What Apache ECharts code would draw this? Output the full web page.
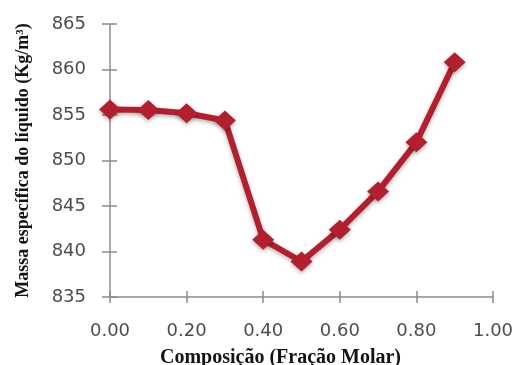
<!DOCTYPE html>
<html>
<head>
<meta charset="utf-8">
<script src="https://cdn.jsdelivr.net/npm/echarts@6/dist/echarts.min.js"></script>
<style>
html,body{margin:0;padding:0;background:#fff;}
#chart{width:515px;height:365px;}
</style>
</head>
<body>
<div id="chart"></div>
<script>
// Composition (mole fraction) and liquid density
const composicao = [0.0, 0.1, 0.2, 0.3, 0.4, 0.5, 0.6, 0.7, 0.8, 0.9];
const massaEspecifica = [855.6, 855.55, 855.2, 854.4, 841.3, 838.9, 842.4, 846.6, 852.0, 860.8];
const yTicks = [835, 840, 845, 850, 855, 860, 865];
const xTicks = [0, 0.2, 0.4, 0.6, 0.8, 1.0];

const points = composicao.map((x, i) => [x, massaEspecifica[i]]);
const axisColor = '#8c8c8c';
const labelFont = { fontFamily: 'DejaVu Sans', fontSize: 18, color: '#4d4d4d' };
const red = '#b41f2d';

const chart = echarts.init(document.getElementById('chart'), null, { renderer: 'canvas' });
chart.setOption({
  animation: false,
  grid: { left: 110, right: 22, top: 24, bottom: 68, containLabel: false, outerBoundsMode: 'none' },
  xAxis: [{
    type: 'value', min: xTicks[0], max: xTicks[xTicks.length - 1], interval: 0.2,
    axisLine: { show: true, lineStyle: { color: axisColor, width: 1.5 } },
    axisTick: { show: true, length: 6, lineStyle: { color: axisColor, width: 1.5 } },
    splitLine: { show: false },
    axisLabel: Object.assign({ margin: 25, formatter: v => v.toFixed(2) }, labelFont),
    name: 'Composição (Fração Molar)',
    nameLocation: 'middle', nameGap: 51,
    nameTextStyle: { fontFamily: 'Liberation Serif', fontWeight: 'bold', fontSize: 20, color: '#141414', padding: [0, 42, 0, 0] }
  }, {
    type: 'value', position: 'bottom', min: 0, max: 1, interval: 0.2,
    axisLine: { show: false },
    axisTick: { show: true, inside: true, length: 6, lineStyle: { color: axisColor, width: 1.5 } },
    axisLabel: { show: false }, splitLine: { show: false }
  }],
  yAxis: [{
    type: 'value', min: yTicks[0], max: yTicks[yTicks.length - 1], interval: 5,
    axisLine: { show: true, lineStyle: { color: axisColor, width: 1.5 } },
    axisTick: { show: true, length: 8, lineStyle: { color: axisColor, width: 1.5 } },
    splitLine: { show: false },
    axisLabel: Object.assign({ margin: 24 }, labelFont),
    name: 'Massa específica do líquido (Kg/m³)',
    nameLocation: 'middle', nameGap: 78, nameRotate: 90,
    nameTextStyle: { fontFamily: 'Liberation Serif', fontWeight: 'bold', fontSize: 18, color: '#141414' }
  }, {
    type: 'value', position: 'left', min: 835, max: 865, interval: 5,
    axisLine: { show: false },
    axisTick: { show: true, inside: true, length: 7, lineStyle: { color: axisColor, width: 1.5 } },
    axisLabel: { show: false }, splitLine: { show: false }
  }],
  series: [{
    type: 'line',
    data: points,
    symbol: 'diamond',
    symbolSize: [22, 20],
    lineStyle: { color: red, width: 6, shadowColor: 'rgba(0,0,0,0.3)', shadowBlur: 4, shadowOffsetY: 2 },
    itemStyle: { color: red, shadowColor: 'rgba(0,0,0,0.3)', shadowBlur: 4, shadowOffsetY: 2 }
  }]
});
</script>
</body>
</html>
